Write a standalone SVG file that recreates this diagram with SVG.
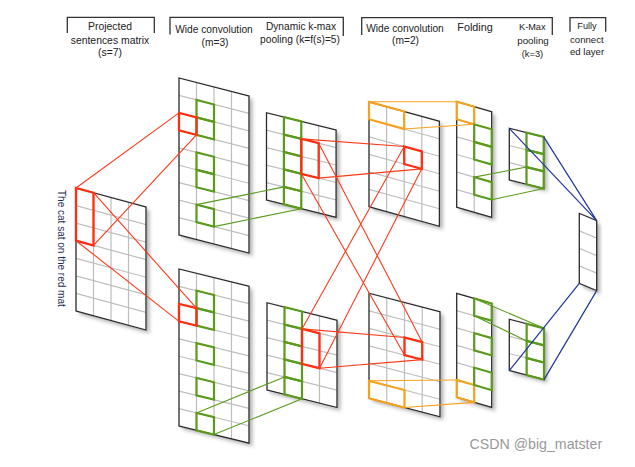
<svg xmlns="http://www.w3.org/2000/svg" width="635" height="467" viewBox="0 0 635 467">
<defs>
<filter id="sh" x="-20%" y="-10%" width="150%" height="130%">
<feDropShadow dx="3" dy="2" stdDeviation="2.2" flood-color="#000" flood-opacity="0.35"/>
</filter>
</defs>
<style>
.bg{fill:#fff;filter:url(#sh)}
.grid{fill:none;stroke:#bdbdbd;stroke-width:1.2}
.bd{fill:none;stroke:#2a2a2a;stroke-width:1.3}
.g{fill:none;stroke:#5a9b1c;stroke-width:2.2}
.r{fill:none;stroke:#ff2e12;stroke-width:2.3}
.o{fill:none;stroke:#f8a11e;stroke-width:2.2}
.cr{stroke:#ff3a1a;stroke-width:1.1;fill:none}
.cg{stroke:#5a9b1c;stroke-width:1.1;fill:none}
.co{stroke:#f8a11e;stroke-width:1.1;fill:none}
.cb{stroke:#22379c;stroke-width:1.2;fill:none}
.t{font-family:"Liberation Sans",Arial,sans-serif;fill:#222;text-anchor:middle}
.br{fill:none;stroke:#333;stroke-width:1.3}
</style>

<g id="headers">
<path class="br" d="M67.3 33V17.3H154.3V33"/>
<text class="t" x="110" y="29.7" font-size="10.4">Projected</text>
<text class="t" x="110" y="43.8" font-size="10.4">sentences matrix</text>
<text class="t" x="110" y="55.5" font-size="10.4">(s=7)</text>
<path class="br" d="M170 34.5V17.3H343.3V36"/>
<text class="t" x="214" y="32.5" font-size="10.2">Wide convolution</text>
<text class="t" x="215" y="45.5" font-size="10.2">(m=3)</text>
<text class="t" x="301" y="30" font-size="10.2">Dynamic k-max</text>
<text class="t" x="300" y="42.5" font-size="10.2">pooling (k=f(s)=5)</text>
<path class="br" d="M361.7 35V17.7H552.3V35"/>
<text class="t" x="405" y="31.5" font-size="10.2">Wide convolution</text>
<text class="t" x="405.5" y="43.5" font-size="10.2">(m=2)</text>
<text class="t" x="475" y="31" font-size="10.8">Folding</text>
<text class="t" x="532.3" y="30" font-size="9.2">K-Max</text>
<text class="t" x="533" y="44" font-size="9.8">pooling</text>
<text class="t" x="532.5" y="57" font-size="9.3">(k=3)</text>
<path class="br" d="M570 31.7V17.7H605.7V31.7"/>
<text class="t" x="587" y="28.5" font-size="9.2">Fully</text>
<text class="t" x="570" y="43.3" font-size="9.6" style="text-anchor:start">connect</text>
<text class="t" x="570" y="55" font-size="9.6" style="text-anchor:start">ed layer</text>
</g>

<text id="sentence" transform="translate(57.5,190) rotate(90)" font-family="Liberation Sans, Arial, sans-serif" font-size="10" fill="#1f2d52">The cat sat on the red mat</text>

<g id="proj" transform="matrix(1,0.271,0,1,76,188)">
<rect class="bg" width="70" height="123"/>
<path class="grid" d="M17.5 0V123M35 0V123M52.5 0V123M0 17.6H70M0 35.1H70M0 52.7H70M0 70.3H70M0 87.9H70M0 105.4H70"/>
<rect class="bd" width="70" height="123"/>
<rect class="r" x="0" y="0" width="17.5" height="52.7"/>
</g>

<g id="conv1-top" transform="matrix(1,0.257,0,1,179,78)">
<rect class="bg" width="70" height="157"/>
<path class="grid" d="M17.5 0V157M35 0V157M52.5 0V157M0 17.45H70M0 34.9H70M0 52.35H70M0 69.8H70M0 87.25H70M0 104.7H70M0 122.15H70M0 139.6H70"/>
<rect class="bd" width="70" height="157"/>
<rect class="g" x="17.5" y="17.45" width="17.5" height="17.45"/>
<rect class="g" x="17.5" y="34.9" width="17.5" height="17.45"/>
<rect class="g" x="17.5" y="69.8" width="17.5" height="17.45"/>
<rect class="g" x="17.5" y="87.25" width="17.5" height="17.45"/>
<rect class="g" x="17.5" y="122.15" width="17.5" height="17.45"/>
<rect class="r" x="0" y="34.9" width="17.5" height="17.45"/>
</g>

<g id="conv1-bottom" transform="matrix(1,0.245,0,1,179,269)">
<rect class="bg" width="70" height="157"/>
<path class="grid" d="M17.5 0V157M35 0V157M52.5 0V157M0 17.45H70M0 34.9H70M0 52.35H70M0 69.8H70M0 87.25H70M0 104.7H70M0 122.15H70M0 139.6H70"/>
<rect class="bd" width="70" height="157"/>
<rect class="g" x="17.5" y="17.45" width="17.5" height="17.45"/>
<rect class="g" x="17.5" y="34.9" width="17.5" height="17.45"/>
<rect class="g" x="17.5" y="69.8" width="17.5" height="17.45"/>
<rect class="g" x="17.5" y="104.7" width="17.5" height="17.45"/>
<rect class="g" x="17.5" y="139.6" width="17.5" height="17.45"/>
<rect class="r" x="0" y="34.9" width="17.5" height="17.45"/>
</g>

<g id="pool-top" transform="matrix(1,0.25,0,1,266.5,112.7)">
<rect class="bg" width="69.6" height="87.3"/>
<path class="grid" d="M17.4 0V87.3M34.8 0V87.3M52.2 0V87.3M0 17.46H69.6M0 34.92H69.6M0 52.38H69.6M0 69.84H69.6"/>
<rect class="bd" width="69.6" height="87.3"/>
<rect class="g" x="17.4" y="0" width="17.4" height="17.46"/>
<rect class="g" x="17.4" y="17.46" width="17.4" height="17.46"/>
<rect class="g" x="17.4" y="34.92" width="17.4" height="17.46"/>
<rect class="g" x="17.4" y="52.38" width="17.4" height="17.46"/>
<rect class="g" x="17.4" y="69.84" width="17.4" height="17.46"/>
<rect class="r" x="34.8" y="17.46" width="17.4" height="34.92"/>
</g>

<g id="pool-bottom" transform="matrix(1,0.25,0,1,267,302.7)">
<rect class="bg" width="70" height="87.3"/>
<path class="grid" d="M17.5 0V87.3M35 0V87.3M52.5 0V87.3M0 17.46H70M0 34.92H70M0 52.38H70M0 69.84H70"/>
<rect class="bd" width="70" height="87.3"/>
<rect class="g" x="17.5" y="0" width="17.5" height="17.46"/>
<rect class="g" x="17.5" y="17.46" width="17.5" height="17.46"/>
<rect class="g" x="17.5" y="34.92" width="17.5" height="17.46"/>
<rect class="g" x="17.5" y="52.38" width="17.5" height="17.46"/>
<rect class="g" x="17.5" y="69.84" width="17.5" height="17.46"/>
<rect class="r" x="35" y="17.46" width="17.5" height="34.92"/>
</g>

<g id="conv2-top" transform="matrix(1,0.276,0,1,369,101.8)">
<rect class="bg" width="70.4" height="105"/>
<path class="grid" d="M17.6 0V105M35.2 0V105M52.8 0V105M0 17.5H70.4M0 35H70.4M0 52.5H70.4M0 70H70.4M0 87.5H70.4"/>
<rect class="bd" width="70.4" height="105"/>
<rect class="o" x="0" y="0" width="35.2" height="17.5"/>
<rect class="r" x="35.2" y="35" width="17.6" height="17.5"/>
</g>

<g id="conv2-bottom" transform="matrix(1,0.26,0,1,369,293.3)">
<rect class="bg" width="71" height="105"/>
<path class="grid" d="M17.75 0V105M35.5 0V105M53.25 0V105M0 17.5H71M0 35H71M0 52.5H71M0 70H71M0 87.5H71"/>
<rect class="bd" width="71" height="105"/>
<rect class="o" x="0" y="87.5" width="35.5" height="17.5"/>
<rect class="r" x="35.5" y="35" width="17.75" height="17.5"/>
</g>

<g id="fold-top" transform="matrix(1,0.286,0,1,456.7,101.7)">
<rect class="bg" width="35" height="105.6"/>
<path class="grid" d="M17.5 0V105.6M0 17.6H35M0 35.2H35M0 52.8H35M0 70.4H35M0 88H35"/>
<rect class="bd" width="35" height="105.6"/>
<rect class="o" x="0" y="0" width="17.5" height="17.6"/>
<rect class="g" x="17.5" y="17.6" width="17.5" height="17.6"/>
<rect class="g" x="17.5" y="35.2" width="17.5" height="17.6"/>
<rect class="g" x="17.5" y="70.4" width="17.5" height="17.6"/>
</g>

<g id="fold-bottom" transform="matrix(1,0.29,0,1,456.7,293.3)">
<rect class="bg" width="35" height="104"/>
<path class="grid" d="M17.5 0V104M0 17.33H35M0 34.67H35M0 52H35M0 69.33H35M0 86.67H35"/>
<rect class="bd" width="35" height="104"/>
<rect class="o" x="0" y="86.67" width="17.5" height="17.33"/>
<rect class="g" x="17.5" y="0" width="17.5" height="17.33"/>
<rect class="g" x="17.5" y="34.67" width="17.5" height="17.33"/>
<rect class="g" x="17.5" y="69.33" width="17.5" height="17.33"/>
</g>

<g id="kmax-top" transform="matrix(1,0.25,0,1,509.3,128.3)">
<rect class="bg" width="34.4" height="51.6"/>
<path class="grid" d="M17.2 0V51.6M0 17.2H34.4M0 34.4H34.4"/>
<rect class="bd" width="34.4" height="51.6"/>
<rect class="g" x="17.2" y="0" width="17.2" height="17.2"/>
<rect class="g" x="17.2" y="17.2" width="17.2" height="17.2"/>
<rect class="g" x="17.2" y="34.4" width="17.2" height="17.2"/>
</g>

<g id="kmax-bottom" transform="matrix(1,0.26,0,1,509.3,319.3)">
<rect class="bg" width="34.7" height="51.3"/>
<path class="grid" d="M17.35 0V51.3M0 17.1H34.7M0 34.2H34.7"/>
<rect class="bd" width="34.7" height="51.3"/>
<rect class="g" x="17.35" y="0" width="17.35" height="17.1"/>
<rect class="g" x="17.35" y="17.1" width="17.35" height="17.1"/>
<rect class="g" x="17.35" y="34.2" width="17.35" height="17.1"/>
</g>

<g id="fully-connected" transform="matrix(1,0.42,0,1,579.3,213.3)">
<rect class="bg" width="17.4" height="70"/>
<path class="grid" d="M0 17.5H17.4M0 35H17.4M0 52.5H17.4"/>
<rect class="bd" width="17.4" height="70"/>
</g>

<g id="connectors">
<path class="cr" d="M76 188L179 112.9M93.5 245.4L196.5 134.85M93.5 192.7L196.5 308.2M76 240.7L179 321.35"/>
<path class="cg" d="M196.5 204.65L283.9 186.9M214 226.6L301.3 208.7M196.5 412.9L284.5 376.9M214 434.6L302 398.75"/>
<path class="cr" d="M301.3 138.86L404.2 146.5M318.7 178.13L421.8 168.87M318.7 143.21L422.25 342.15M301.3 173.78L404.5 355.03M302 328.91L404.2 146.5M319.5 368.2L421.8 168.87M302 328.91L404.5 337.53M319.5 368.2L422.25 359.65"/>
<path class="co" d="M369 101.8L456.7 101.7M404.2 129L474.2 124.3M369 380.8L456.7 379.97M404.5 407.53L474.2 402.38"/>
<path class="cg" d="M474.2 177.1L526.5 167M491.7 199.7L543.7 188.5M474.2 298.4L544 328.3M474.2 315.7L526.65 340.9"/>
<path class="cb" d="M509.3 128.3L596.7 220.6M543.7 136.9L596.7 220.6M509.3 370.6L579.3 283.3M544 379.6L596.7 290.6"/>
</g>

<text x="469.5" y="449" font-family="Liberation Sans, Arial, sans-serif" font-size="14.2" fill="#999">CSDN @big_matster</text>
</svg>
